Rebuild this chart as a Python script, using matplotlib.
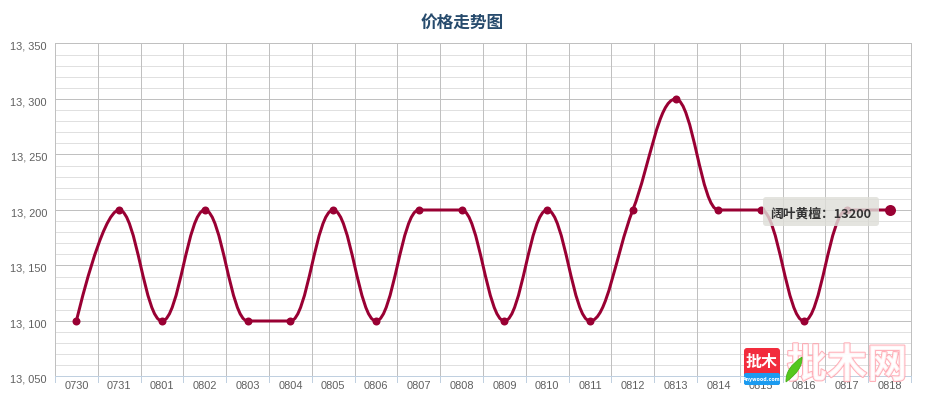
import matplotlib
matplotlib.use("Agg")
import matplotlib.pyplot as plt
import matplotlib.patheffects as pe
from matplotlib.patches import FancyBboxPatch, PathPatch
from matplotlib.path import Path
from matplotlib.transforms import Affine2D, blended_transform_factory

plt.rcParams['font.family'] = ['Noto Sans CJK SC', 'DejaVu Sans']

title = "价格走势图"
categories = ["0730", "0731", "0801", "0802", "0803", "0804", "0805", "0806", "0807", "0808",
              "0809", "0810", "0811", "0812", "0813", "0814", "0815", "0816", "0817", "0818"]
prices = [13100, 13200, 13100, 13200, 13100, 13100, 13200, 13100, 13200, 13200,
          13100, 13200, 13100, 13200, 13300, 13200, 13200, 13100, 13200, 13200]
major_ticks = [13050, 13100, 13150, 13200, 13250, 13300, 13350]
major_labels = ["13, 050", "13, 100", "13, 150", "13, 200", "13, 250", "13, 300", "13, 350"]
minor_ticks = [v for v in range(13050, 13351, 10) if v not in major_ticks]
series_name = "阔叶黄檀"
hover_index = 19
tooltip_value = 13200

W, H = 930, 400
PX = 0.72
LINE = "#990033"


def spline_path(xs, ys, smoothing=1.5):
    """Highcharts-style spline through the points."""
    denom = smoothing + 1
    n = len(xs)
    left = [None] * n
    right = [None] * n
    for i in range(n):
        if i == 0:
            right[i] = (xs[i], ys[i])
            continue
        if i == n - 1:
            left[i] = (xs[i], ys[i])
            continue
        lx = (smoothing * xs[i] + xs[i - 1]) / denom
        ly = (smoothing * ys[i] + ys[i - 1]) / denom
        rx = (smoothing * xs[i] + xs[i + 1]) / denom
        ry = (smoothing * ys[i] + ys[i + 1]) / denom
        corr = (ry - ly) * (rx - xs[i]) / (rx - lx) + ys[i] - ry
        ly += corr
        ry += corr
        if (ly > ys[i - 1] and ly > ys[i]) or (ly < ys[i - 1] and ly < ys[i]):
            lim = max(ys[i - 1], ys[i]) if ly > ys[i - 1] else min(ys[i - 1], ys[i])
            ry = ys[i] - (lim - ys[i]) * (rx - xs[i]) / (xs[i] - lx)
            ly = lim
        if (ry > ys[i + 1] and ry > ys[i]) or (ry < ys[i + 1] and ry < ys[i]):
            lim = max(ys[i + 1], ys[i]) if ry > ys[i + 1] else min(ys[i + 1], ys[i])
            ly = ys[i] - (lim - ys[i]) * (xs[i] - lx) / (rx - xs[i])
            ry = lim
        left[i] = (lx, ly)
        right[i] = (rx, ry)
    verts = [(xs[0], ys[0])]
    codes = [Path.MOVETO]
    for i in range(1, n):
        verts += [right[i - 1], left[i], (xs[i], ys[i])]
        codes += [Path.CURVE4] * 3
    return Path(verts, codes)


fig = plt.figure(figsize=(W / 100, H / 100), dpi=100, facecolor="white")
ax = fig.add_axes([55.0 / W, (H - 376.5) / H, 856 / W, 333 / H])
ax.set_xlim(-0.5, len(categories) - 0.5)
ax.set_ylim(major_ticks[0], major_ticks[-1])
ax.set_facecolor("white")
for s in ax.spines.values():
    s.set_visible(False)

# grid
ax.set_xticks([])
ax.set_yticks([])
for v in minor_ticks:
    ax.axhline(v, color="#e0e0e0", lw=PX, zorder=1, clip_on=False)
for v in major_ticks[1:]:
    ax.axhline(v, color="#c0c0c0", lw=PX, zorder=1.2, clip_on=False)
for i in range(len(categories) + 1):
    ax.axvline(i - 0.5, color="#c0c0c0", lw=PX, zorder=1.3, clip_on=False)
ax.axhline(major_ticks[0], color="#c0d0e0", lw=PX, zorder=1.4, clip_on=False)

# ticks and labels
xa = blended_transform_factory(ax.transData, ax.transAxes)
for i in range(len(categories) + 1):
    ax.plot([i - 0.5, i - 0.5], [0, -5 / 333], transform=xa, color="#c0d0e0",
            lw=PX, clip_on=False, zorder=1.4)
for i, c in enumerate(categories):
    ax.annotate(c, (i, 0), xycoords=xa, xytext=(0, -9.5 * PX),
                textcoords="offset points", ha="center", va="center",
                fontsize=7.9, family="Liberation Sans", color="#606060", zorder=2)
for v, lab in zip(major_ticks, major_labels):
    ax.annotate(lab, (0, v), xycoords=ax.get_yaxis_transform(),
                xytext=(-8 * PX, -3.5 * PX), textcoords="offset points", ha="right", va="center",
                fontsize=7.9, family="Liberation Sans", color="#606060", annotation_clip=False)

# series
xs = list(range(len(categories)))
ax.add_patch(PathPatch(spline_path(xs, prices), fc="none", ec=LINE, lw=3 * PX,
                       capstyle="round", joinstyle="round", zorder=3))
ax.plot(xs, prices, ls="none", marker="o", ms=8 * PX, mfc=LINE, mec=LINE, mew=0, zorder=4)
ax.plot([xs[hover_index]], [prices[hover_index]], ls="none", marker="o", ms=11 * PX,
        mfc=LINE, mec=LINE, mew=0, zorder=5)

fig.text(462 / W, 1 - 22.5 / H, title, ha="center", va="center", fontsize=12,
         fontweight="bold", color="#274b6d")

# overlay in pixel coordinates
px = Affine2D().scale(1, -1).translate(0, H)


def add(p):
    p.set_transform(px)
    p.set_clip_on(False)
    fig.add_artist(p)
    return p


add(FancyBboxPatch((766, 200), 110, 23, boxstyle="round,pad=3,rounding_size=3",
                   fc="#deded8", ec="none", alpha=0.82, zorder=10))
fig.text(770, 214, f"{series_name}：{tooltip_value}", transform=px, ha="left", va="center",
         fontsize=9.2, fontweight="bold", color="#333333", zorder=11)

# watermark logo
add(FancyBboxPatch((746, 350), 32, 33, boxstyle="round,pad=2,rounding_size=3",
                   fc="#f22c3d", ec="none", zorder=12))
add(FancyBboxPatch((746, 375), 32, 8, boxstyle="round,pad=2,rounding_size=2",
                   fc="#1b9bf0", ec="none", zorder=12.5))
fig.text(762, 362, "批木", transform=px, ha="center", va="center", fontsize=11.5,
         fontweight="bold", color="white", zorder=13)
fig.text(762, 379, "Anywood.com", transform=px, ha="center", va="center", fontsize=3.4,
         fontweight="bold", color="white", zorder=13, family="DejaVu Sans")
mark = fig.text(847, 366, "批木网", transform=px, ha="center", va="center", fontsize=29,
                fontweight="bold", color="#ffffff", alpha=0.8, zorder=14)
mark.set_path_effects([pe.withStroke(linewidth=1.4, foreground="#ff9aa5")])
leaf = Path([(786, 382), (785, 368), (802, 357), (803, 370), (786, 382), (786, 382)],
            [Path.MOVETO, Path.CURVE3, Path.CURVE3, Path.CURVE3, Path.CURVE3, Path.CLOSEPOLY])
add(PathPatch(leaf, fc="#55c81e", ec="#3faa14", lw=0.5, zorder=15))

fig.savefig("out.png", dpi=100)
